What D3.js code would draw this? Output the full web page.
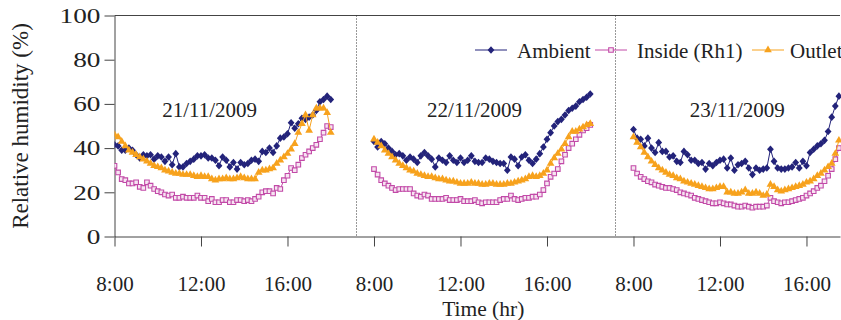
<!DOCTYPE html>
<html>
<head>
<meta charset="utf-8">
<script src="https://cdn.jsdelivr.net/npm/d3@7/dist/d3.min.js"></script>
<style>
  body { margin: 0; background: #fff; }
</style>
</head>
<body>
<div id="chart"></div>
<script>
// Relative humidity readings, every 10 min starting 8:00, one array per day
const days = ["21/11/2009", "22/11/2009", "23/11/2009"];
const startHour = 8;
const stepMinutes = 10;

const ambient1 = [41.5, 41, 39, 39, 40, 39, 37, 35.5, 37, 36.5, 37, 35, 36.5, 36, 34, 36, 32.5, 37.5, 31.5, 31.5,
  33, 34, 35, 36.5, 36.5, 37, 35.5, 35.5, 34.5, 32, 36, 34.5, 31.5, 33.5, 30.5, 33.5, 32.5, 33, 34.5, 35,
  34, 38.5, 38, 40, 38, 41, 44.5, 45, 46.5, 51.5, 49, 51, 53.5, 53, 54, 55, 57, 61, 62, 63.5, 62];
const inside1 = [32, 29, 26, 25.5, 24, 24, 24.5, 22.5, 22, 24.5, 23, 21.5, 20.5, 20, 19, 18.5, 19, 17.5, 17.5, 18,
  17.5, 17.5, 17.5, 18.5, 17.5, 17.5, 16, 17, 15.5, 15.5, 16.5, 16.5, 15.5, 15.5, 16.5, 16.5, 16, 16.5, 16, 17,
  18, 20, 20.5, 20.5, 19.5, 22, 21.5, 25.5, 27.5, 31, 30, 32.5, 35.5, 37, 38.5, 40, 41.5, 44, 47, 50, 49.5];
const outlet1 = [46, 45, 43, 41, 39, 38, 37, 36, 35, 34, 33, 32, 31.5, 31, 30, 29.5, 29, 28.5, 28.5, 28,
  28, 28, 27.5, 27, 27.5, 27, 27, 26, 25.5, 26, 26, 26.5, 26, 26, 26.5, 27, 26.5, 26, 26, 26,
  29, 30, 30, 30.5, 31, 33, 34.5, 36, 37.5, 39.5, 42, 47, 51, 55, 48, 55, 58, 58, 58, 56, 47];

const ambient2 = [43, 40.5, 43, 42, 40, 38.5, 37, 37.5, 36.5, 34.5, 36, 35, 33.5, 36.5, 38, 36.5, 35, 31.5, 35.5, 34.5,
  33.5, 36.5, 34.5, 33.5, 35.5, 33.5, 34.5, 36.5, 34, 33.5, 33.5, 35.5, 35, 34, 33.5, 33, 33, 30, 36, 35,
  32, 36, 37, 34.5, 33, 35, 37.5, 40.5, 44, 47, 50, 52, 53, 55, 57, 58, 59, 61, 62, 63, 64.5];
const inside2 = [30.5, 28, 25.5, 24, 23, 22, 21, 21.5, 21.5, 21.5, 21.5, 19.5, 18.5, 18, 19, 18.5, 17, 17, 17, 17,
  17.5, 16.5, 16.5, 16.5, 17, 16, 16, 16, 16.5, 15.5, 15, 15.5, 15.5, 15.5, 15.5, 16.5, 17, 17, 18.5, 17,
  16.5, 17, 17.5, 17.5, 18, 18, 19, 21, 24, 27, 28.5, 30.5, 34, 37, 40, 42, 44, 46, 48, 49, 50.5];
const outlet2 = [44, 42.5, 41, 39, 37.5, 36, 34.5, 33, 32, 31, 30, 29.5, 28.5, 28, 27.5, 27, 27, 26.5, 26, 26,
  25.5, 25, 25, 24.5, 24, 24, 24, 24.5, 24, 24, 23.5, 23.5, 24, 24, 23.5, 23.5, 23.5, 24, 24, 24.5,
  25, 25.5, 26, 27, 27.5, 27, 27.5, 28.5, 30, 33, 35.5, 37.5, 39.5, 42, 45, 47.5, 47.5, 48.5, 49.5, 50.5, 51];

const ambient3 = [48.4, 44.5, 44, 41, 44.5, 40, 38, 42.5, 38.5, 38.5, 36, 36.5, 34, 33.5, 38.5, 37, 34.5, 34.5, 33, 33.5,
  30.5, 33, 32, 33.5, 34.5, 35, 31, 35.5, 30, 32.5, 33, 34, 31, 28, 31, 30, 30.5, 31, 39.5, 34,
  31, 30.5, 30.5, 31, 31.5, 33.5, 31, 34, 32, 38, 39.5, 41, 42, 43.5, 47.5, 54, 59, 63.5];
const inside3 = [31, 28.5, 27, 26, 25, 24.5, 23.5, 23, 22.5, 22, 22, 21.5, 21, 20, 19.5, 19, 18.5, 17.5, 17, 16.5,
  16, 15.5, 15, 15, 15.5, 15, 14.5, 14.5, 14, 13.5, 13.5, 14, 13.5, 13, 13.5, 13.5, 13.5, 14, 17.5, 16,
  15.5, 15, 15.5, 15.5, 16, 16.5, 17, 17.5, 18.5, 19.5, 20.5, 22, 23, 25, 27.5, 30.5, 35, 40];
const outlet3 = [45, 42.5, 40.5, 38, 36, 34, 32.5, 31, 30, 29, 28, 27.5, 26.5, 26, 25, 24.5, 24, 23.5, 23, 22.5,
  22, 21.5, 21.5, 22, 22.5, 22.5, 20, 20, 19.5, 19.5, 20, 21, 19.5, 19.5, 20, 19.5, 18.5, 19, 23.5, 22.5,
  21, 20.5, 21, 21.5, 22, 22.5, 23, 23.5, 24.5, 25, 26, 27.5, 28.5, 30, 31.5, 33, 37.5, 43.5];

const seriesNames = ["Ambient", "Inside (Rh1)", "Outlet"];
const seriesColors = ["#23237a", "#c24aa8", "#f7a21d"];
const seriesData = [
  [ambient1, ambient2, ambient3],
  [inside1, inside2, inside3],
  [outlet1, outlet2, outlet3],
];

const yTicks = [0, 20, 40, 60, 80, 100];
const xTickHours = [8, 12, 16];
const hoursPerDay = 12;          // each day panel spans 8:00 - 20:00 on the axis
const separatorOffsets = [11.15, 23.15];
const dayLabelOffsets = [4.4, 4.65, 4.8];

const serif = '"Liberation Serif", "Times New Roman", serif';

// Set up dimensions
const width = 841, height = 320;
const plot = { left: 114.5, right: 840, top: 15.5, bottom: 236.5 };

const svg = d3.select("#chart").append("svg")
  .attr("width", width)
  .attr("height", height)
  .style("display", "block");

const x = d3.scaleLinear().domain([0, 33.55]).range([plot.left, plot.right]);
const y = d3.scaleLinear().domain([0, 100]).range([plot.bottom, plot.top]);

// Top frame line
svg.append("line")
  .attr("x1", plot.left).attr("x2", plot.right)
  .attr("y1", plot.top).attr("y2", plot.top)
  .style("stroke", "#444").style("stroke-width", 1);

// Day separators
svg.selectAll(".sep")
  .data(separatorOffsets)
  .enter().append("line")
  .attr("class", "sep")
  .attr("x1", d => Math.round(x(d)) + 0.5)
  .attr("x2", d => Math.round(x(d)) + 0.5)
  .attr("y1", plot.top).attr("y2", plot.bottom)
  .style("stroke", "#333")
  .style("stroke-dasharray", "1,2");

// Y axis
const yAxis = svg.append("g")
  .attr("transform", `translate(${plot.left},0)`)
  .call(d3.axisLeft(y).tickValues(yTicks).tickSizeInner(10).tickSizeOuter(0).tickPadding(4));
yAxis.attr("font-family", null);
yAxis.select(".domain").style("stroke", "#444");
yAxis.selectAll(".tick line").style("stroke", "#444");
yAxis.selectAll(".tick text")
  .attr("x", -14 / 1.3)
  .attr("transform", "scale(1.3,1)")
  .style("font-size", "21px")
  .style("fill", "#222");

// X axis: ticks at 8:00, 12:00, 16:00 of each day
const xTickValues = [];
const xTickLabels = [];
days.forEach((d, i) => {
  xTickHours.forEach(h => {
    xTickValues.push(i * hoursPerDay + (h - startHour));
    xTickLabels.push(h + ":00");
  });
});

const xAxis = svg.append("g")
  .attr("transform", `translate(0,${plot.bottom})`)
  .call(d3.axisBottom(x)
    .tickValues(xTickValues)
    .tickFormat((d, i) => xTickLabels[i])
    .tickSizeInner(10).tickSizeOuter(0));
xAxis.attr("font-family", null);
xAxis.select(".domain").style("stroke", "#444");
xAxis.selectAll(".tick line").style("stroke", "#444");
xAxis.selectAll(".tick text")
  .attr("dy", null)
  .attr("y", 54)
  .style("font-size", "21px")
  .style("fill", "#222");

// Axis titles
svg.append("text")
  .attr("x", (plot.left + plot.right) / 2 + 6)
  .attr("y", 316)
  .attr("text-anchor", "middle")
  .style("font-size", "21.5px")
  .style("fill", "#222")
  .text("Time (hr)");

svg.append("text")
  .attr("transform", `translate(28,${(plot.top + plot.bottom) / 2}) rotate(-90)`)
  .attr("text-anchor", "middle")
  .style("font-size", "23px")
  .style("fill", "#222")
  .text("Relative humidity (%)");

// Date labels
svg.selectAll(".day-label")
  .data(days)
  .enter().append("text")
  .attr("class", "day-label")
  .attr("x", (d, i) => x(i * hoursPerDay + dayLabelOffsets[i]))
  .attr("y", 117)
  .attr("text-anchor", "middle")
  .style("font-size", "21px")
  .style("fill", "#222")
  .text(d => d);

// Clip the data to the plot area
svg.append("clipPath").attr("id", "clip")
  .append("rect")
  .attr("x", plot.left).attr("y", plot.top - 5)
  .attr("width", plot.right - plot.left + 5)
  .attr("height", plot.bottom - plot.top + 5);

const dataLayer = svg.append("g").attr("clip-path", "url(#clip)");

const line = d3.line().x(d => x(d.t)).y(d => y(d.v));

const diamond = "M0,-3.8L3.4,0L0,3.8L-3.4,0Z";
const triangle = d3.symbol(d3.symbolTriangle, 26)();
const square = "M-2.3,-2.3H2.3V2.3H-2.3Z";

function drawMarker(sel, s) {
  if (s === 0) {
    sel.append("path").attr("d", diamond).style("fill", seriesColors[0]);
  } else if (s === 1) {
    sel.append("path").attr("d", square)
      .style("fill", "#f6e4f1").style("stroke", seriesColors[1]).style("stroke-width", 1.1);
  } else {
    sel.append("path").attr("d", triangle).style("fill", seriesColors[2]);
  }
}

seriesData.forEach((dayArrays, s) => {
  const g = dataLayer.append("g");
  dayArrays.forEach((vals, dayIdx) => {
    const pts = vals.map((v, i) => ({ t: dayIdx * hoursPerDay + i * stepMinutes / 60, v: v }));
    g.append("path")
      .datum(pts)
      .attr("d", line)
      .style("fill", "none")
      .style("stroke", seriesColors[s])
      .style("stroke-width", 1);
    const marks = g.selectAll(null)
      .data(pts)
      .enter().append("g")
      .attr("transform", d => `translate(${x(d.t)},${y(d.v)})`);
    drawMarker(marks, s);
  });
});

// Legend
const legendItems = [
  { x0: 475, tx: 517 },
  { x0: 595, tx: 637 },
  { x0: 752, tx: 790 },
];
const legendY = 50;
const legend = svg.append("g");
seriesNames.forEach((name, s) => {
  const it = legendItems[s];
  const lg = legend.append("g");
  lg.append("line")
    .attr("x1", it.x0).attr("x2", it.x0 + 32)
    .attr("y1", legendY).attr("y2", legendY)
    .style("stroke", seriesColors[s]).style("stroke-width", 1);
  const m = lg.append("g").attr("transform", `translate(${it.x0 + 16},${legendY})`);
  drawMarker(m, s);
  lg.append("text")
    .attr("x", it.tx)
    .attr("y", legendY + 8)
    .style("font-size", "21px")
    .style("fill", "#222")
    .text(name);
});

// Serif font on every label
svg.selectAll("text").style("font-family", serif);
</script>
</body>
</html>
